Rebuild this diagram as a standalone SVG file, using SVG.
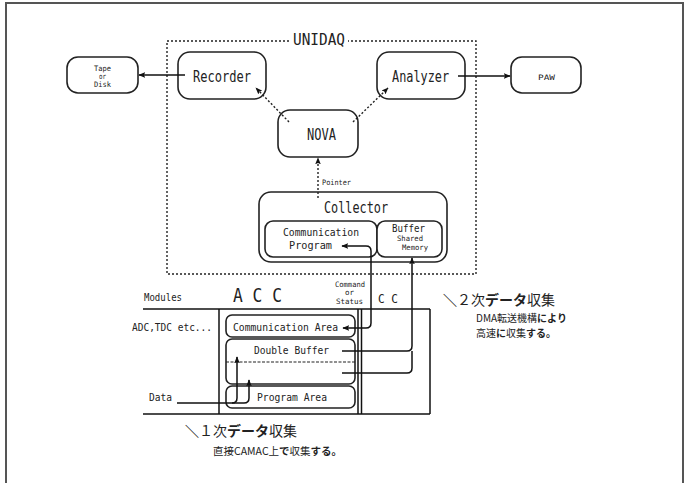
<svg xmlns="http://www.w3.org/2000/svg" width="692" height="483" viewBox="0 0 692 483">
<style>
text{font-family:"DejaVu Sans Mono","Liberation Mono",monospace;fill:#222}
.jp{font-family:"Noto Sans CJK JP","Noto Sans",sans-serif}
.box{fill:#fff;stroke:#222;stroke-width:1.6}
.ln{fill:none;stroke:#111;stroke-width:1.5}
.dot{fill:none;stroke:#222;stroke-width:1.4;stroke-dasharray:2,2}
.b16{font-size:16px}
.m10{font-size:10px}
.s7{font-size:7.5px}
</style>
<defs>
<marker id="ah" viewBox="0 0 10 10" refX="9" refY="5" markerWidth="7" markerHeight="7" markerUnits="userSpaceOnUse" orient="auto-start-reverse">
<path d="M0,1 L10,5 L0,9 L2,5 Z" fill="#111"/>
</marker>
</defs>
<rect x="6" y="3" width="677" height="500" fill="none" stroke="#555" stroke-width="2"/>

<g id="unidaq">
<rect x="167" y="41" width="309" height="233" class="dot"/>
<rect x="290" y="33" width="58" height="14" fill="#fff"/>
<text x="293" y="45" class="b16" textLength="52" lengthAdjust="spacingAndGlyphs">UNIDAQ</text>
</g>

<g id="tape">
<rect x="67" y="57" width="71" height="36" rx="11" class="box"/>
<text x="94" y="71" class="s7" textLength="17" lengthAdjust="spacingAndGlyphs">Tape</text>
<text x="99" y="79" class="s7" textLength="7" lengthAdjust="spacingAndGlyphs">or</text>
<text x="94" y="87" class="s7" textLength="17" lengthAdjust="spacingAndGlyphs">Disk</text>
</g>

<g id="recorder">
<rect x="178" y="52" width="88" height="47" rx="12" class="box"/>
<text x="193" y="82" class="b16" textLength="58" lengthAdjust="spacingAndGlyphs">Recorder</text>
</g>

<g id="analyzer">
<rect x="377" y="52" width="88" height="47" rx="12" class="box"/>
<text x="392" y="82" class="b16" textLength="57" lengthAdjust="spacingAndGlyphs">Analyzer</text>
</g>

<g id="paw">
<rect x="511" y="57" width="70" height="36" rx="11" class="box"/>
<text x="538" y="80" class="s7" textLength="17" lengthAdjust="spacingAndGlyphs">PAW</text>
</g>

<g id="nova">
<rect x="278" y="110" width="80" height="47" rx="12" class="box"/>
<text x="307" y="140" class="b16" textLength="29" lengthAdjust="spacingAndGlyphs">NOVA</text>
</g>

<g id="collector">
<rect x="259" y="192" width="188" height="70" rx="12" class="box" stroke-width="2"/>
<text x="324" y="213" class="b16" textLength="64" lengthAdjust="spacingAndGlyphs">Collector</text>
</g>

<g id="commprog">
<rect x="265" y="221" width="112" height="36" rx="8" class="box"/>
<text x="283" y="236" class="m10" textLength="76" lengthAdjust="spacingAndGlyphs">Communication</text>
<text x="289" y="249" class="m10" textLength="43" lengthAdjust="spacingAndGlyphs">Program</text>
</g>

<g id="buffer">
<rect x="377" y="221" width="65" height="36" rx="8" class="box"/>
<text x="392" y="232" class="m10" textLength="33" lengthAdjust="spacingAndGlyphs">Buffer</text>
<text x="397" y="241" class="s7" textLength="26" lengthAdjust="spacingAndGlyphs">Shared</text>
<text x="402" y="250" class="s7" textLength="26" lengthAdjust="spacingAndGlyphs">Memory</text>
</g>

<g id="table">
<line x1="143" y1="309" x2="430" y2="309" class="ln"/>
<line x1="143" y1="414" x2="430" y2="414" class="ln"/>
<line x1="219" y1="309" x2="219" y2="414" class="ln" stroke-width="2"/>
<line x1="358" y1="309" x2="358" y2="414" class="ln" stroke-width="1.2"/>
<line x1="361.5" y1="309" x2="361.5" y2="414" class="ln" stroke-width="1.2"/>
<line x1="430" y1="309" x2="430" y2="414" class="ln"/>
<text x="144" y="301" class="m10" textLength="38" lengthAdjust="spacingAndGlyphs">Modules</text>
<text x="233" y="302" font-size="19" textLength="49" lengthAdjust="spacingAndGlyphs">A C C</text>
<text x="335" y="287" class="s7" textLength="30" lengthAdjust="spacingAndGlyphs">Command</text>
<text x="345" y="295" class="s7" textLength="9" lengthAdjust="spacingAndGlyphs">or</text>
<text x="336" y="304" class="s7" textLength="27" lengthAdjust="spacingAndGlyphs">Status</text>
<text x="378" y="303" font-size="12" textLength="20" lengthAdjust="spacingAndGlyphs">C C</text>
<text x="132" y="331" class="m10" textLength="80" lengthAdjust="spacingAndGlyphs">ADC,TDC etc...</text>
<text x="149" y="401" class="m10" textLength="23" lengthAdjust="spacingAndGlyphs">Data</text>
</g>

<g id="commarea">
<rect x="226" y="315" width="129" height="22" rx="6" class="box"/>
<text x="233" y="331" class="m10" textLength="105" lengthAdjust="spacingAndGlyphs">Communication Area</text>
</g>

<g id="doublebuffer">
<rect x="226" y="339" width="129" height="45" rx="6" class="box"/>
<line x1="226" y1="362" x2="355" y2="362" stroke="#222" stroke-width="1.2" stroke-dasharray="3,1.5"/>
<text x="254" y="354" class="m10" textLength="75" lengthAdjust="spacingAndGlyphs">Double Buffer</text>
</g>

<g id="programarea">
<rect x="226" y="386" width="129" height="22" rx="6" class="box"/>
<text x="257" y="401" class="m10" textLength="70" lengthAdjust="spacingAndGlyphs">Program Area</text>
</g>

<g id="notes">
<text x="443" y="305" class="jp" font-size="14"><tspan font-weight="bold">＼</tspan>２次<tspan font-weight="bold">データ</tspan>収集</text>
<text x="476" y="322" class="jp" font-size="10">DMA転送機構<tspan font-weight="bold">により</tspan></text>
<text x="476" y="337" class="jp" font-size="10">高速<tspan font-weight="bold">に</tspan>収集<tspan font-weight="bold">する。</tspan></text>
<text x="185" y="436" class="jp" font-size="14"><tspan font-weight="bold">＼</tspan>１次<tspan font-weight="bold">データ</tspan>収集</text>
<text x="213" y="455" class="jp" font-size="10.5">直接CAMAC上<tspan font-weight="bold">で</tspan>収集<tspan font-weight="bold">する。</tspan></text>
</g>

<g id="connectors">
<line x1="185" y1="75" x2="139" y2="75" class="ln" marker-end="url(#ah)"/>
<line x1="458" y1="76" x2="510" y2="76" class="ln" marker-end="url(#ah)"/>
<line x1="289" y1="122" x2="256" y2="88" class="dot" marker-end="url(#ah)"/>
<line x1="353" y1="122" x2="388" y2="88" class="dot" marker-end="url(#ah)"/>
<line x1="318" y1="198" x2="318" y2="158" class="dot" marker-end="url(#ah)"/>
<text x="322" y="185" class="s7" textLength="29" lengthAdjust="spacingAndGlyphs">Pointer</text>
<path d="M342,246 H366 Q371,246 371,251 V323 Q371,328 366,328 H343" class="ln" marker-start="url(#ah)" marker-end="url(#ah)"/>
<path d="M342,351 H407 Q412,351 412,346 V258" class="ln" marker-end="url(#ah)"/>
<path d="M342,373 H407 Q412,373 412,368 V351" class="ln"/>
<path d="M177,403 H232 Q237,403 237,398 V357" class="ln" marker-end="url(#ah)"/>
<path d="M232,403 H244 Q249,403 249,398 V380" class="ln" marker-end="url(#ah)"/>
</g>
</svg>
